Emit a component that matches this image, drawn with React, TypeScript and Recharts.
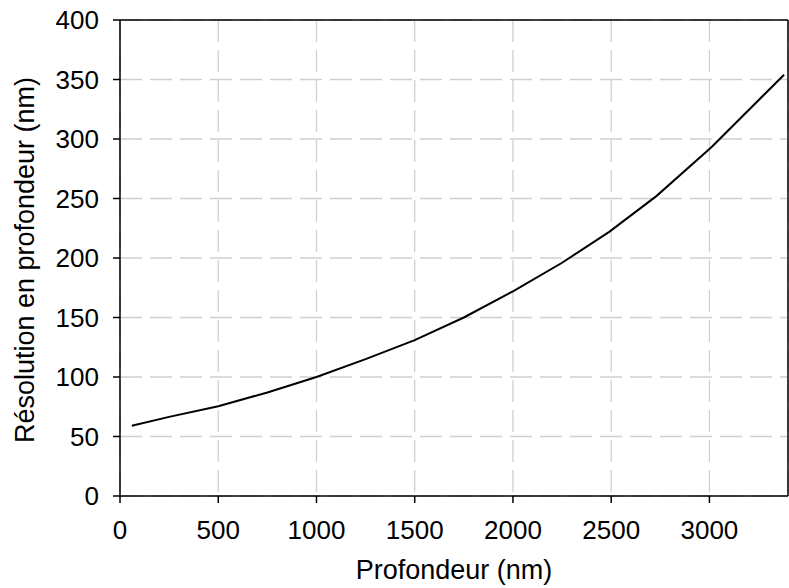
import React from 'react';
import { LineChart, Line, XAxis, YAxis, CartesianGrid, ReferenceLine } from 'recharts';

const depths = [60, 250, 500, 750, 1000, 1250, 1500, 1750, 2000, 2250, 2490, 2730, 3010, 3380];
const resolution = [59, 66.5, 75.5, 87, 100, 115, 131, 150, 172, 196, 222, 252, 293, 354];
const xTicks = [0, 500, 1000, 1500, 2000, 2500, 3000];
const yTicks = [0, 50, 100, 150, 200, 250, 300, 350, 400];
const xLabel = 'Profondeur (nm)';
const yLabel = 'Résolution en profondeur (nm)';

const data = depths.map((d, i) => ({ d, r: resolution[i] }));

const FONT = '"Liberation Sans", Arial, sans-serif';
const FS = 26;
const LFS = 27;

const YLabel = (props: any) => {
  const vb = props.viewBox || {};
  const x = vb.x + 24;
  const y = vb.y + vb.height / 2 + 2;
  return (
    <text x={x} y={y} dy="0.355em" textAnchor="middle" transform={`rotate(-90, ${x}, ${y})`}
      fontFamily={FONT} fontSize={LFS} fill="#000">{yLabel}</text>
  );
};

export default function App() {
  return (
    <div style={{ position: 'absolute', left: 0, top: 0, background: '#fff' }}>
      <LineChart width={789} height={588} data={data} margin={{ top: 20, right: 1, bottom: 0, left: 0 }}>
        <CartesianGrid stroke="#cfcfcf" strokeWidth={1.3} strokeDasharray="22 8"
          horizontal={{ strokeDashoffset: -1.5 } as any}
          vertical={{ strokeDashoffset: 10 } as any} />
        <XAxis dataKey="d" type="number" domain={[0, 3400]} ticks={xTicks} allowDataOverflow
          height={92} tickSize={7} tickMargin={18}
          stroke="#000" strokeWidth={1.5}
          tick={{ fill: '#000', fontSize: FS, fontFamily: FONT }}
          tickLine={{ stroke: '#000', strokeWidth: 1.5 }}
          label={{ value: xLabel, position: 'insideBottom', offset: 9, fill: '#000', fontSize: LFS, fontFamily: FONT }} />
        <YAxis type="number" domain={[0, 400]} ticks={yTicks} width={120} tickSize={7} tickMargin={14}
          stroke="#000" strokeWidth={1.5}
          tick={{ fill: '#000', fontSize: FS, fontFamily: FONT }}
          tickLine={{ stroke: '#000', strokeWidth: 1.5 }}
          label={{ content: <YLabel /> } as any} />
        <ReferenceLine y={400} stroke="#000" strokeWidth={1.5} />
        <ReferenceLine x={3400} stroke="#000" strokeWidth={1.5} />
        <Line type="linear" dataKey="r" stroke="#000" strokeWidth={2} dot={false} isAnimationActive={false} />
      </LineChart>
    </div>
  );
}
